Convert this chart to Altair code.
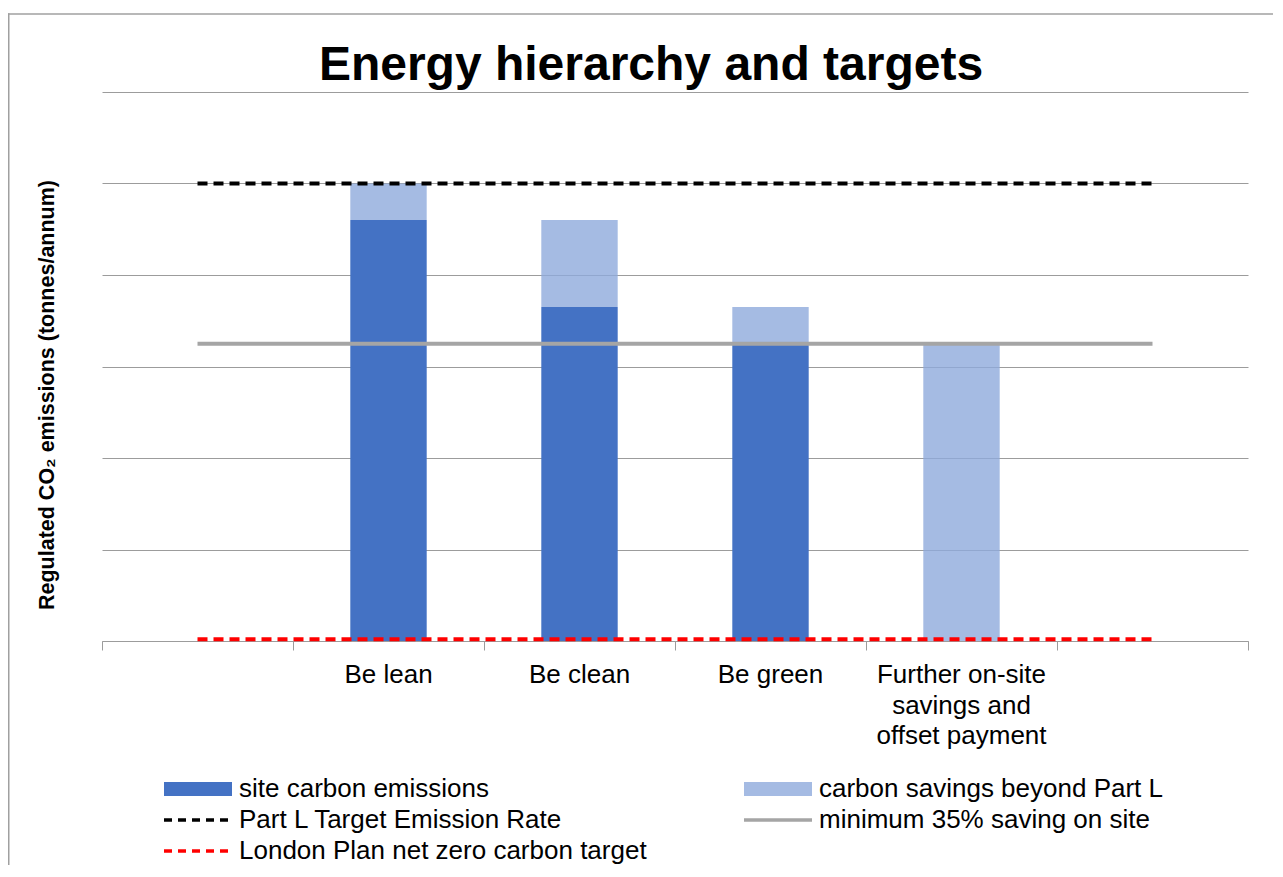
import altair as alt
import pandas as pd

# ---- data ----
categories = ["blank1", "Be lean", "Be clean", "Be green",
              "Further on-site|savings and|offset payment", "blank2"]
bar_categories = ["Be lean", "Be clean", "Be green",
                  "Further on-site|savings and|offset payment"]
site_carbon = [46.0, 36.5, 32.5, 0.0]
savings_beyond = [4.0, 9.5, 4.0, 32.5]
bar_series = ["site carbon emissions", "carbon savings beyond Part L"]

line_series = ["Part L Target Emission Rate", "minimum 35% saving on site",
               "London Plan net zero carbon target"]
part_l_ter = [50, 50, 50, 50, 50, 50]
min_35 = [32.5, 32.5, 32.5, 32.5, 32.5, 32.5]
net_zero = [0.2, 0.2, 0.2, 0.2, 0.2, 0.2]

title_text = "Energy hierarchy and targets"
y_title = "Regulated CO\u2082 emissions (tonnes/annum)"

FONT = "Liberation Sans, Arial, sans-serif"
W, H = 1146, 549
DARK = "#4472C4"
LIGHT = "rgba(143,170,220,0.8)"
GRID = "#9C9C9C"
LINE_COLORS = ["#000000", "#A5A5A5", "#FF0000"]
LINE_DASHES = [[10, 6], [1, 0], [10, 6]]
LEGEND_DASHES = [[8, 6], [1, 0], [8, 6]]

# ---- tables ----
bars_rows = []
for i, c in enumerate(bar_categories):
    bars_rows.append({"cat": c, "series": bar_series[0], "v": site_carbon[i], "o": 0})
    bars_rows.append({"cat": c, "series": bar_series[1], "v": savings_beyond[i], "o": 1})
bars_df = pd.DataFrame(bars_rows)

lines_rows = []
for s, vals in zip(line_series, [part_l_ter, min_35, net_zero]):
    for c, v in zip(categories, vals):
        lines_rows.append({"cat": c, "series": s, "v": v})
lines_df = pd.DataFrame(lines_rows)

labels_df = pd.DataFrame({"cat": bar_categories, "label": bar_categories})

x_scale = alt.Scale(domain=categories, paddingInner=0, paddingOuter=0)
y_scale = alt.Scale(domain=[0, 60], nice=False)

x_axis = alt.Axis(
    title=None, tickBand="extent", grid=False, labels=False,
    tickSize=9, tickColor=GRID, domainColor=GRID, tickWidth=1, domainWidth=1,
)
y_axis = alt.Axis(
    title=None, labels=False, ticks=False, domain=False, grid=True,
    values=[0, 10, 20, 30, 40, 50, 60], gridColor=GRID, gridWidth=1,
)

bars = alt.Chart(bars_df).mark_bar(width=alt.RelativeBandSize(0.4)).encode(
    x=alt.X("cat:N", scale=x_scale, axis=x_axis, sort=categories),
    y=alt.Y("v:Q", scale=y_scale, axis=y_axis, stack="zero"),
    color=alt.Color("series:N",
                    scale=alt.Scale(domain=bar_series, range=[DARK, LIGHT]),
                    legend=None),
    order=alt.Order("o:Q"),
)

lines = alt.Chart(lines_df).mark_line(strokeWidth=4, strokeCap="butt").encode(
    x=alt.X("cat:N", scale=x_scale, sort=categories),
    y=alt.Y("v:Q", scale=y_scale),
    stroke=alt.Stroke("series:N",
                      scale=alt.Scale(domain=line_series, range=LINE_COLORS),
                      legend=None),
    strokeDash=alt.StrokeDash("series:N",
                              scale=alt.Scale(domain=line_series, range=LINE_DASHES),
                              legend=None),
)

cat_labels = alt.Chart(labels_df).mark_text(
    font=FONT, fontSize=26, color="#000000", align="center", baseline="top",
    lineBreak="|", lineHeight=30.5,
).encode(
    x=alt.X("cat:N", scale=x_scale, sort=categories),
    y=alt.value(H + 21),
    text="label:N",
)

one = pd.DataFrame({"a": [0]})


def text_layer(txt, x, y, size, weight="normal", align="left", baseline="middle", angle=0):
    return alt.Chart(pd.DataFrame({"t": [txt]})).mark_text(
        font=FONT, fontSize=size, fontWeight=weight, align=align, baseline=baseline,
        angle=angle, color="#000000",
    ).encode(text="t:N", x=alt.value(x), y=alt.value(y))


title_layer = text_layer(title_text, 549, -12, 48, "bold", "center", "alphabetic")
ytitle_layer = text_layer(y_title, -54, 303, 21.5, "bold", "center", "middle", 270)

border_top = alt.Chart(one).mark_rect(color="#A0A0A0").encode(
    x=alt.value(-94), x2=alt.value(1171), y=alt.value(-78.75), y2=alt.value(-77.25))
border_left = alt.Chart(one).mark_rect(color="#A0A0A0").encode(
    x=alt.value(-94), x2=alt.value(-92.5), y=alt.value(-78.75), y2=alt.value(773))

# ---- legend (drawn as marks) ----
legend_layers = []
col_x = [62, 642]
row_y = [697, 728, 759]
legend_items = [
    (bar_series[0], "rect", DARK, None, 0, 0),
    (bar_series[1], "rect", LIGHT, None, 1, 0),
    (line_series[0], "line", LINE_COLORS[0], LEGEND_DASHES[0], 0, 1),
    (line_series[1], "line", LINE_COLORS[1], LEGEND_DASHES[1], 1, 1),
    (line_series[2], "line", LINE_COLORS[2], LEGEND_DASHES[2], 0, 2),
]
for label, kind, color, dash, c, r in legend_items:
    x0, yc = col_x[c], row_y[r]
    if kind == "rect":
        legend_layers.append(alt.Chart(one).mark_rect(color=color).encode(
            x=alt.value(x0), x2=alt.value(x0 + 68),
            y=alt.value(yc - 7), y2=alt.value(yc + 7)))
    else:
        legend_layers.append(alt.Chart(one).mark_rule(
            color=color, strokeWidth=3.5, strokeDash=dash).encode(
            x=alt.value(x0), x2=alt.value(x0 + 68), y=alt.value(yc)))
    legend_layers.append(text_layer(label, x0 + 75, yc, 26))

chart = alt.layer(
    bars, lines, cat_labels, border_top, border_left, title_layer, ytitle_layer,
    *legend_layers
).properties(
    width=W, height=H,
    autosize=alt.AutoSizeParams(type="none"),
    padding={"left": 94, "top": 84, "right": 25, "bottom": 224},
).configure(background="#FFFFFF").configure_view(stroke=None)

chart.save("out.html", embed_options={"renderer": "svg", "actions": False})
